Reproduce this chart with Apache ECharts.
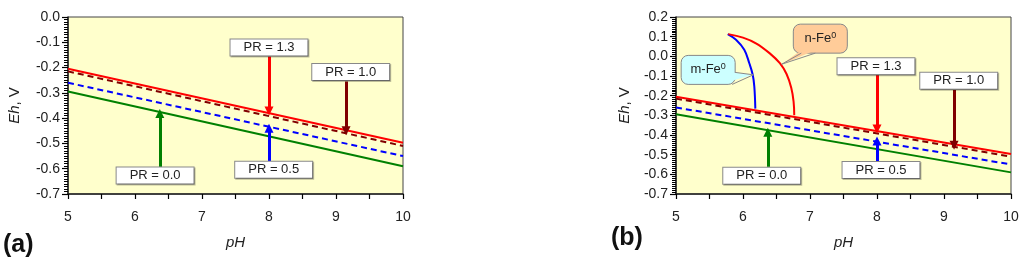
<!DOCTYPE html>
<html>
<head>
<meta charset="utf-8">
<script src="https://cdn.jsdelivr.net/npm/echarts@6/dist/echarts.min.js"></script>
<style>
  html, body { margin: 0; padding: 0; background: #fff; }
  #main { width: 1024px; height: 259px; }
</style>
</head>
<body>
<div id="main"></div>
<script>
// PR lines (pH, Eh) - same in both panels
var linePR13 = [[5, -0.205], [10, -0.497]];
var linePR10 = [[5, -0.215], [10, -0.51]];
var linePR05 = [[5, -0.26], [10, -0.55]];
var linePR00 = [[5, -0.295], [10, -0.59]];

// panel (b) curves
var curveMFe = [[5.772, 0.113], [5.896, 0.084], [6.019, 0.033], [6.094, -0.035], [6.145, -0.094], [6.169, -0.154], [6.184, -0.266]];
var curveNFe = [[5.78, 0.113], [6.0, 0.095], [6.2, 0.065], [6.4, 0.015], [6.55, -0.035], [6.65, -0.09], [6.72, -0.16], [6.755, -0.23], [6.765, -0.30]];

// arrow annotations: label, x, from, to, label centre
var prNames = ['PR = 1.3', 'PR = 1.0', 'PR = 0.5', 'PR = 0.0'];
var arrowX = [8, 9.15, 8, 6.37];
var arrowFromA = [-0.156, -0.255, -0.57, -0.593];
var arrowToA = [-0.372, -0.45, -0.44, -0.382];
var boxA = [[8, -0.121], [9.22, -0.218], [8.07, -0.604], [6.30, -0.627]];
var arrowFromB = [-0.094, -0.171, -0.533, -0.562];
var arrowToB = [-0.370, -0.452, -0.43, -0.386];
var boxB = [[7.985, -0.051], [9.22, -0.124], [8.06, -0.578], [6.28, -0.607]];

// callouts: text, box centre, tip
var calloutText = ['m-Fe', 'n-Fe'];
var calloutBox = [[5.48, -0.069], [7.154, 0.09]];
var calloutTip = [[6.154, -0.094], [6.578, -0.040]];

var prColors = ['#ff0000', '#800000', '#0000ff', '#008000'];
var FONT = 'Liberation Sans, Arial, sans-serif';

function xAx(i) {
    return {
        gridIndex: i, type: 'value', min: 5, max: 10, interval: 1,
        name: '{i|pH}', nameLocation: 'middle', nameGap: 41,
        nameTextStyle: {rich: {i: {fontStyle: 'italic', fontSize: 15, color: '#222', fontFamily: FONT}}},
        axisLine: {show: true, onZero: false, lineStyle: {color: '#222', width: 1.5}},
        axisTick: {show: true, length: 5, lineStyle: {color: '#000', width: 1.2}},
        minorTick: {show: true, splitNumber: 2, length: 5, lineStyle: {color: '#000', width: 1.2}},
        axisLabel: {fontSize: 14, color: '#222', margin: 16},
        splitLine: {show: false}
    };
}
function yAx(i, max, gap) {
    return {
        gridIndex: i, type: 'value', min: -0.7, max: max, interval: 0.1,
        name: '{i|Eh}, V', nameLocation: 'middle', nameGap: gap, nameRotate: 90,
        nameTextStyle: {fontSize: 15, color: '#222', rich: {i: {fontStyle: 'italic', fontSize: 15, color: '#222', fontFamily: FONT}}},
        axisLine: {show: true, onZero: false, lineStyle: {color: '#222', width: 1.5}},
        axisTick: {show: true, length: 6, lineStyle: {color: '#000', width: 1.2}},
        minorTick: {show: true, splitNumber: 10, length: 4, lineStyle: {color: '#000', width: 1}},
        axisLabel: {fontSize: 14, color: '#222', margin: 8, formatter: function (v) { return v.toFixed(1); }},
        splitLine: {show: false}
    };
}

function prLines(i) {
    var defs = [[linePR13, prColors[0], 'solid'], [linePR10, prColors[1], [6, 4]],
                [linePR05, prColors[2], [6, 4]], [linePR00, prColors[3], 'solid']];
    return defs.map(function (d) {
        return {
            type: 'line', xAxisIndex: i, yAxisIndex: i, data: d[0], symbol: 'none',
            lineStyle: {color: d[1], width: 2, type: d[2]}, z: 3
        };
    });
}

function arrows(i, from, to) {
    return {
        type: 'lines', coordinateSystem: 'cartesian2d', xAxisIndex: i, yAxisIndex: i,
        symbol: ['none', 'triangle'], symbolSize: [8, 9], z: 5,
        data: arrowX.map(function (x, k) {
            return {coords: [[x, from[k]], [x, to[k]]], lineStyle: {color: prColors[k], width: 3, opacity: 1}};
        })
    };
}

function boxes(i, centres) {
    return {
        type: 'scatter', xAxisIndex: i, yAxisIndex: i, symbolSize: 0, z: 6,
        itemStyle: {opacity: 1},
        data: centres.map(function (c, k) { return {value: c, name: prNames[k]}; }),
        label: {
            show: true, position: 'inside', formatter: '{b}', fontSize: 13, color: '#222', opacity: 1,
            backgroundColor: '#ffffff', borderColor: '#888', borderWidth: 1, padding: [2, 13, 1, 13],
            shadowColor: 'rgba(0,0,0,0.25)', shadowOffsetX: 1, shadowOffsetY: 1, shadowBlur: 0
        }
    };
}

var calloutFill = ['#ccffff', '#ffcc99'];
var callouts = {
    type: 'custom', xAxisIndex: 1, yAxisIndex: 1, z: 7,
    data: calloutBox.map(function (c, k) { return [c[0], c[1], calloutTip[k][0], calloutTip[k][1], k]; }),
    renderItem: function (params, api) {
        var k = api.value(4);
        var c = api.coord([api.value(0), api.value(1)]);
        var t = api.coord([api.value(2), api.value(3)]);
        var w = 54, h = 29;
        var x0 = c[0] - w / 2, y0 = c[1] - h / 2;
        var b1, b2;
        if (k === 0) { b1 = [x0 + w, y0 + 17]; b2 = [x0 + w - 3, y0 + h]; }
        else { b1 = [x0 + 8, y0 + h]; b2 = [x0 + 22, y0 + h]; }
        return {
            type: 'group',
            children: [
                {type: 'rect', shape: {x: x0, y: y0, width: w, height: h, r: 7},
                 style: {fill: calloutFill[k], stroke: '#888', lineWidth: 1}},
                {type: 'polygon', shape: {points: [[b1[0] + (k === 0 ? -3 : 0), b1[1] + (k === 0 ? 0 : -3)], t, [b2[0] + (k === 0 ? -3 : 0), b2[1] - 3]]},
                 style: {fill: calloutFill[k]}},
                {type: 'polyline', shape: {points: [b1, t, b2]},
                 style: {fill: null, stroke: '#888', lineWidth: 1}},
                {type: 'text', x: c[0], y: c[1],
                 style: {text: '{n|' + calloutText[k] + '}{s|0}', align: 'center', verticalAlign: 'middle',
                         rich: {n: {fontSize: 13, fill: '#222', fontFamily: FONT, lineHeight: 15},
                                s: {fontSize: 9, fill: '#222', fontFamily: FONT, verticalAlign: 'top', lineHeight: 15, padding: [0, 0, 6, 0]}}}}
            ]
        };
    }
};

var series = []
    .concat(prLines(0))
    .concat([arrows(0, arrowFromA, arrowToA), boxes(0, boxA)])
    .concat(prLines(1))
    .concat([
        {type: 'line', xAxisIndex: 1, yAxisIndex: 1, data: curveMFe, symbol: 'none', smooth: 0.4,
         lineStyle: {color: '#0000ff', width: 2}, z: 4},
        {type: 'line', xAxisIndex: 1, yAxisIndex: 1, data: curveNFe, symbol: 'none', smooth: 0.4,
         lineStyle: {color: '#ff0000', width: 2}, z: 4},
        arrows(1, arrowFromB, arrowToB), boxes(1, boxB), callouts
    ]);

var chart = echarts.init(document.getElementById('main'));
chart.setOption({
    animation: false,
    textStyle: {fontFamily: FONT},
    title: [
        {text: '(a)', left: 3, top: 233, padding: 0, textStyle: {fontSize: 25, fontWeight: 'bold', color: '#111', fontFamily: FONT}},
        {text: '(b)', left: 611, top: 226, padding: 0, textStyle: {fontSize: 25, fontWeight: 'bold', color: '#111', fontFamily: FONT}}
    ],
    grid: [
        {left: 68, top: 17, width: 335, height: 177, show: true, backgroundColor: '#ffffcc', borderColor: '#444', borderWidth: 1,
         containLabel: false, outerBoundsMode: 'none'},
        {left: 676, top: 17, width: 335, height: 177, show: true, backgroundColor: '#ffffcc', borderColor: '#444', borderWidth: 1,
         containLabel: false, outerBoundsMode: 'none'}
    ],
    xAxis: [xAx(0), xAx(1)],
    yAxis: [yAx(0, 0, 46), yAx(1, 0.2, 44)],
    series: series
});
</script>
</body>
</html>
